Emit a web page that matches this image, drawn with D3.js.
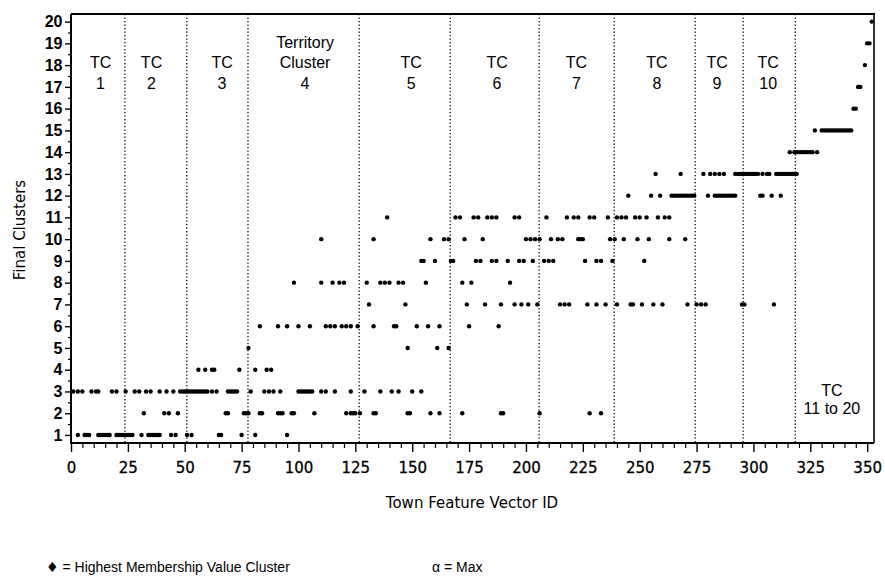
<!DOCTYPE html>
<html><head><meta charset="utf-8">
<script src="https://cdn.jsdelivr.net/npm/d3@7/dist/d3.min.js"></script>
<style>body{margin:0;background:#fff}svg{display:block}</style>
</head><body>
<svg id="chart" width="885" height="578"></svg>
<script>
// ---------- data ----------
const xTickValues = [0,25,50,75,100,125,150,175,200,225,250,275,300,325,350];
const yTickValues = [1,2,3,4,5,6,7,8,9,10,11,12,13,14,15,16,17,18,19,20];

// Town feature vector IDs whose highest-membership cluster is 1..20
const cluster1 = [3,6,7,8,12,13,14,15,16,17,20,21,22,23,24,25,26,27,31,34,35,36,37,38,39,44,46,51,53,65,66,75,81,95];
const cluster2 = [32,41,43,47,68,69,76,77,78,83,84,91,92,93,97,98,107,121,123,124,125,127,133,134,148,149,158,162,172,189,190,206,228,233];
const cluster3 = [1,3,5,9,11,12,18,20,24,28,30,33,35,39,42,45,48,49,50,51,52,53,54,55,56,57,58,59,60,62,64,69,70,71,72,73,79,85,87,89,92,100,101,102,103,104,105,106,110,112,116,123,129,136,141,144,150,154];
const cluster4 = [56,59,62,63,74,81,86,88];
const cluster5 = [78,148,161,166];
const cluster6 = [83,91,95,100,105,112,114,116,119,121,123,126,133,142,143,152,157,162,175,188];
const cluster7 = [131,147,174,182,189,195,198,201,205,215,217,219,227,231,235,240,246,247,251,256,260,271,275,277,279,295,296,309];
const cluster8 = [98,110,115,118,120,130,136,138,140,144,146,156,172,176,193];
const cluster9 = [154,155,160,167,168,178,180,185,187,192,197,199,203,208,210,212,226,231,233,238,252];
const cluster10 = [110,133,158,164,166,173,181,200,202,204,206,211,214,216,223,224,225,237,239,243,249,254,263,270];
const cluster11 = [139,169,171,177,179,183,185,187,195,197,209,218,221,223,228,230,236,240,242,244,248,250,253,258,261,263];
const cluster12 = [245,255,259,264,265,266,267,268,269,270,271,272,273,274,280,283,284,285,286,287,288,289,290,291,292,303,304,308,312];
const cluster13 = [257,268,278,281,283,285,287,292,293,294,295,296,297,298,299,300,301,302,304,306,307,310,311,312,313,314,315,316,317,318,319];
const cluster14 = [316,318,319,320,321,322,323,324,325,326,328];
const cluster15 = [327,330,331,332,333,334,335,336,337,338,339,340,341,342,343];
const cluster16 = [344,345];
const cluster17 = [346,347];
const cluster18 = [349];
const cluster19 = [350,351];
const cluster20 = [352];

// Territory cluster boundaries (town ID) and label anchors
const tcBoundaries = [23.7,50.9,77.8,126.7,166.7,205.8,238.8,274.4,295.5,318.4];
const tcLabels = [["TC","1"],["TC","2"],["TC","3"],["Territory","Cluster","4"],["TC","5"],["TC","6"],["TC","7"],["TC","8"],["TC","9"],["TC","10"]];
const tcLabelIds = [13,35.4,66.4,102.9,149.5,187.3,222.2,257.6,284,306.5];
const tcLastLabel = ["TC","11 to 20"];
const tcLastLabelId = 334.5;

// ---------- build ----------
const clusterLists = [cluster1,cluster2,cluster3,cluster4,cluster5,cluster6,cluster7,cluster8,cluster9,cluster10,
  cluster11,cluster12,cluster13,cluster14,cluster15,cluster16,cluster17,cluster18,cluster19,cluster20];
const points = [];
clusterLists.forEach((ids,i)=>ids.forEach(id=>points.push({id, c:i+1})));

const svg = d3.select("#chart");
const L=71, R=874, T=14, B=443;
const x = d3.scaleLinear().domain([0,353]).range([L,R]);
const y = d3.scaleLinear().domain([0.63,20.35]).range([B,T]);

const sans = "'Liberation Sans', Arial, Helvetica, sans-serif";
const geo = "'DejaVu Sans', 'Noto Sans', sans-serif";

// dotted TC boundaries
svg.append("g").selectAll("line").data(tcBoundaries).join("line")
  .attr("x1",d=>x(d)).attr("x2",d=>x(d)).attr("y1",T).attr("y2",B)
  .attr("stroke","#000").attr("stroke-width",1.3).attr("stroke-dasharray","1.3,2.2");

// y axis (major + minor)
const yAx = svg.append("g").attr("transform",`translate(${L},0)`)
  .call(d3.axisLeft(y).tickValues(yTickValues).tickSize(6).tickPadding(2.5).tickFormat(d3.format("d")));
yAx.select(".domain").remove();
yAx.selectAll("line").attr("stroke","#000").attr("stroke-width",1.4);
yAx.selectAll("text").attr("font-family",sans).attr("font-weight","bold").attr("font-size",16).attr("fill","#000");
const yMinor = svg.append("g").attr("transform",`translate(${L},0)`)
  .call(d3.axisLeft(y).tickValues(yTickValues.slice(0,19).map(v=>v+0.5)).tickSize(3).tickFormat(""));
yMinor.select(".domain").remove();
yMinor.selectAll("line").attr("stroke","#000").attr("stroke-width",1.2);

// x axis (major + minor)
const xAx = svg.append("g").attr("transform",`translate(0,${B})`)
  .call(d3.axisBottom(x).tickValues(xTickValues).tickSize(9).tickPadding(10).tickFormat(d3.format("d")));
xAx.select(".domain").remove();
xAx.selectAll("line").attr("stroke","#000").attr("stroke-width",1.4);
xAx.selectAll("text").attr("font-family",geo).attr("font-size",15).attr("fill","#000")
  .attr("stroke","#000").attr("stroke-width",0.3);
const xMinor = svg.append("g").attr("transform",`translate(0,${B})`)
  .call(d3.axisBottom(x).tickValues(d3.range(0,351,5).filter(v=>v%25!==0)).tickSize(5).tickFormat(""));
xMinor.select(".domain").remove();
xMinor.selectAll("line").attr("stroke","#000").attr("stroke-width",1.2);

// frame
svg.append("line").attr("x1",L).attr("x2",L).attr("y1",T).attr("y2",B+1).attr("stroke","#000").attr("stroke-width",2);
svg.append("line").attr("x1",L).attr("x2",R).attr("y1",B).attr("y2",B).attr("stroke","#000").attr("stroke-width",2);
svg.append("line").attr("x1",L).attr("x2",R+1).attr("y1",T).attr("y2",T).attr("stroke","#000").attr("stroke-width",2);
svg.append("line").attr("x1",R).attr("x2",R).attr("y1",T).attr("y2",B).attr("stroke","#000").attr("stroke-width",1.6);

// points
svg.append("g").selectAll("circle").data(points).join("circle")
  .attr("cx",d=>x(d.id)).attr("cy",d=>y(d.c)).attr("r",2.2).attr("fill","#000");

// TC labels
const lab = svg.append("g").attr("font-family",sans).attr("font-size",16).attr("fill","#000").attr("text-anchor","middle");
tcLabels.forEach((lines,i)=>{
  const n = lines.length;
  lines.forEach((t,j)=>{
    lab.append("text").attr("x",x(tcLabelIds[i])).attr("y",89-(n-1-j)*20.7).text(t);
  });
});
tcLastLabel.forEach((t,j)=>{
  lab.append("text").attr("x",x(tcLastLabelId)).attr("y",414-(1-j)*18).text(t);
});

// axis titles
svg.append("text").attr("transform","translate(25,230) rotate(-90)").attr("text-anchor","middle")
  .attr("font-family",geo).attr("font-size",15).text("Final Clusters");
svg.append("text").attr("x",472).attr("y",508).attr("text-anchor","middle")
  .attr("font-family",geo).attr("font-size",15).text("Town Feature Vector ID");

// legend
const leg = svg.append("text").attr("x",46).attr("y",572).attr("font-family",sans).attr("font-size",14);
leg.append("tspan").attr("font-family","'DejaVu Sans', sans-serif").text("\u2666");
leg.append("tspan").text(" = Highest Membership Value Cluster");
svg.append("text").attr("x",432).attr("y",572).attr("font-family",sans).attr("font-size",14).text("\u03B1 = Max");
</script>
</body></html>
